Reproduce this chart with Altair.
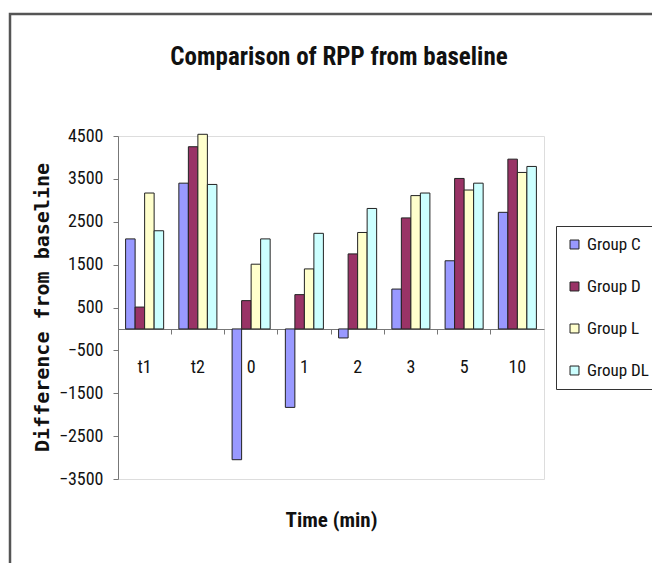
import altair as alt
import pandas as pd

times = ["t1", "t2", "0", "1", "2", "3", "5", "10"]
groups = ["Group C", "Group D", "Group L", "Group DL"]
group_c = [2100, 3400, -3050, -1830, -210, 930, 1590, 2720]
group_d = [510, 4250, 660, 800, 1750, 2590, 3510, 3960]
group_l = [3170, 4540, 1510, 1400, 2250, 3110, 3240, 3650]
group_dl = [2290, 3370, 2100, 2230, 2810, 3170, 3400, 3790]
colors = ["#9999FF", "#993366", "#FFFFCC", "#CCFFFF"]
y_ticks = [4500, 3500, 2500, 1500, 500, -500, -1500, -2500, -3500]
chart_title = "Comparison of RPP from baseline"

rows = []
for g, vals in zip(groups, [group_c, group_d, group_l, group_dl]):
    for t, v in zip(times, vals):
        rows.append({"time": t, "group": g, "value": v})
df = pd.DataFrame(rows)

NARROW = "Liberation Sans Narrow, Arial Narrow, Roboto Condensed, Roboto, Liberation Sans, sans-serif"

W, H = 426, 343

bars = alt.Chart(df).mark_bar(stroke="#222222", strokeWidth=1).encode(
    x=alt.X(
        "time:N",
        sort=times,
        scale=alt.Scale(paddingInner=0, paddingOuter=0),
        axis=alt.Axis(
            title="Time (min)",
            offset=-150,
            bandPosition=0,
            labelAngle=0,
            labelFont=NARROW,
            labelFontSize=18,
            labelColor="#111111",
            labelPadding=24,
            tickSize=5,
            tickColor="#777777",
            domainColor="#777777",
            titleFont=NARROW,
            titleFontSize=21,
            titleFontWeight="bold",
            titleColor="#111111",
            titleY=191,
            titleX=213,
            titleBaseline="middle",
        ),
    ),
    xOffset=alt.XOffset(
        "group:N", sort=groups, scale=alt.Scale(paddingInner=0, paddingOuter=0.8)
    ),
    y=alt.Y(
        "value:Q",
        scale=alt.Scale(domain=[-3500, 4500], nice=False, zero=False),
        axis=alt.Axis(
            values=y_ticks,
            format="d",
            title="Difference from baseline",
            grid=False,
            labelFont=NARROW,
            labelFontSize=18,
            labelColor="#111111",
            labelPadding=10,
            tickSize=5,
            tickColor="#777777",
            domainColor="#777777",
            titleFont="DejaVu Sans Mono",
            titleFontSize=20,
            titleFontWeight="bold",
            titleColor="#111111",
            titleX=-76,
            titleY=171,
            titleAngle=270,
            titleBaseline="middle",
            titleAlign="center",
        ),
    ),
    color=alt.Color(
        "group:N",
        sort=groups,
        scale=alt.Scale(domain=groups, range=colors),
        legend=alt.Legend(
            title=None,
            orient="none",
            legendX=438,
            legendY=90,
            strokeColor="#333333",
            fillColor="white",
            padding=10,
            symbolType="square",
            symbolSize=80,
            symbolStrokeColor="#222222",
            symbolStrokeWidth=1,
            labelFont=NARROW,
            labelFontSize=17,
            labelColor="#111111",
            rowPadding=24,
            labelOffset=4,
        ),
    ),
)

frame = alt.Chart(pd.DataFrame({"a": [0]})).mark_rect(
    fillOpacity=0, stroke="#555555", strokeWidth=2.5
).encode(
    x=alt.value(-108), y=alt.value(-122), x2=alt.value(700), y2=alt.value(600)
)

title = alt.Chart(pd.DataFrame({"t": [chart_title]})).mark_text(
    font=NARROW, fontSize=25, fontWeight="bold", color="#111111",
    align="center", baseline="middle"
).encode(text="t:N", x=alt.value(221), y=alt.value(-79))

chart = alt.layer(frame, title, bars).properties(
    width=W,
    height=H,
    autosize=alt.AutoSizeParams(type="none"),
    padding={"left": 118, "top": 136, "right": 108, "bottom": 84},
).configure_view(stroke="#808080", strokeWidth=1.5).configure(background="white")

chart.save("out.html", embed_options={"renderer": "svg", "actions": False})
